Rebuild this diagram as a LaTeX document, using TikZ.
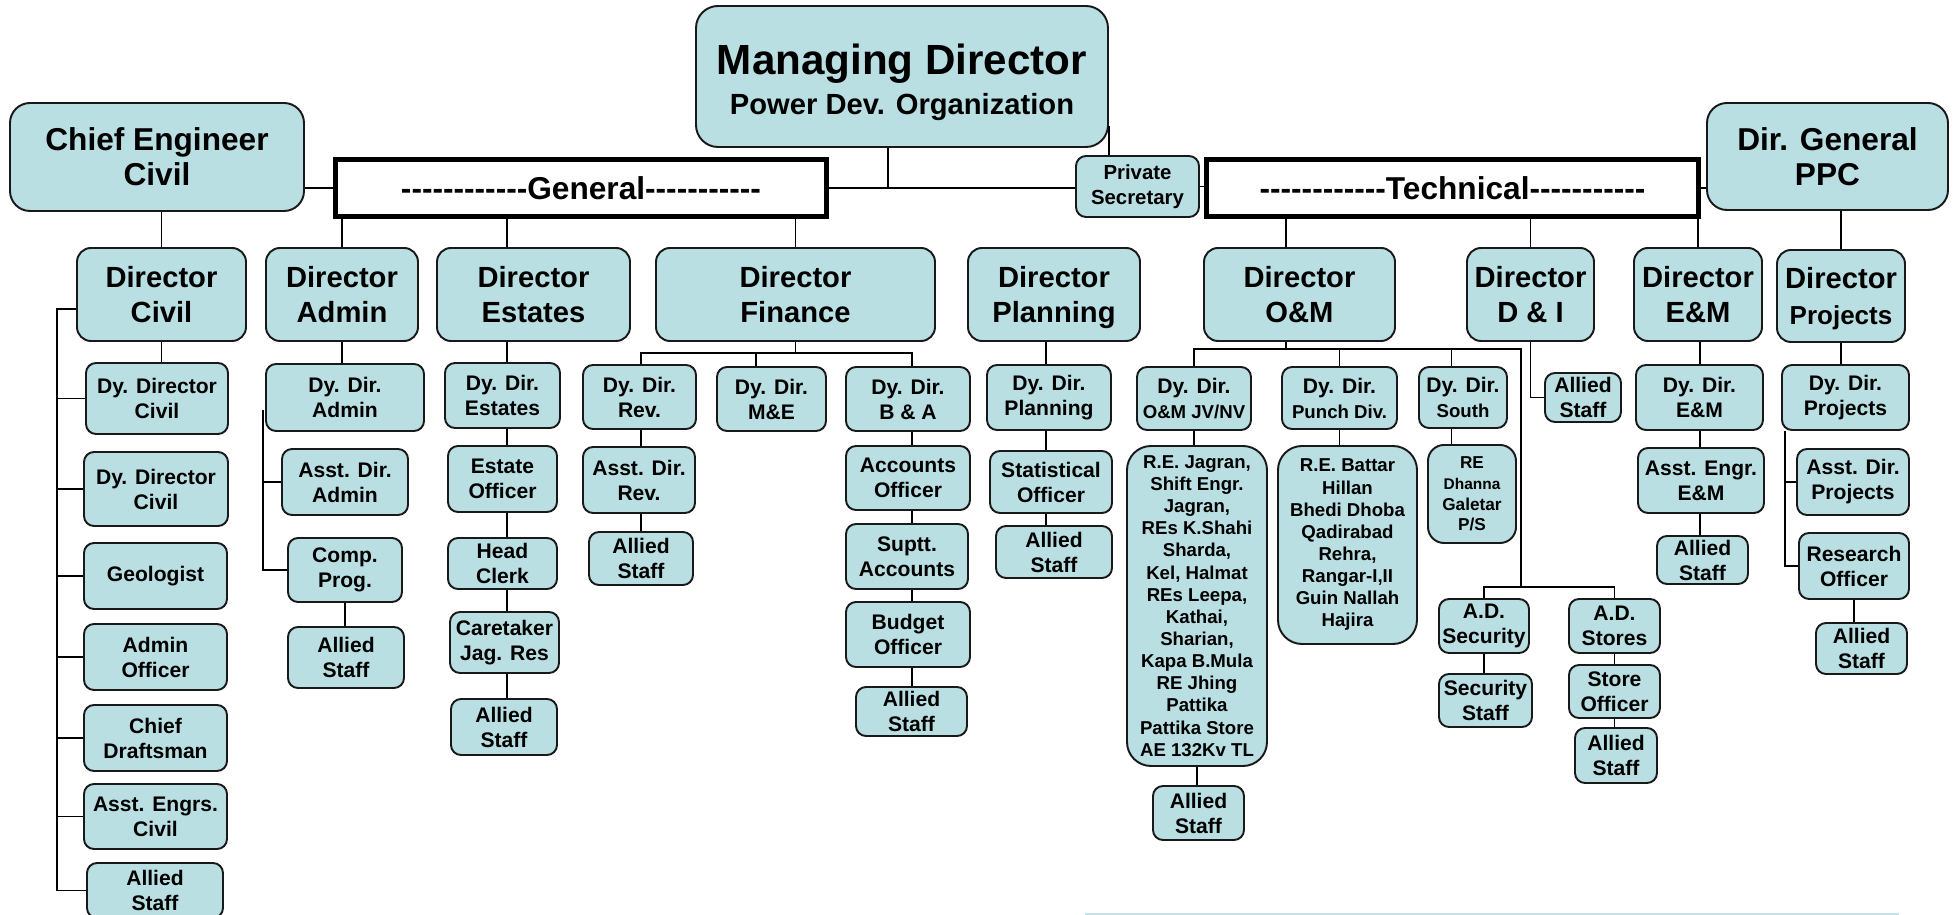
\documentclass[tikz,border=0pt]{standalone}
\usepackage{fontspec}
\setmainfont{Liberation Sans}[Ligatures=TeXOff]
\usepackage{xcolor}

\definecolor{boxfill}{RGB}{185,223,227}
\definecolor{edgeline}{RGB}{25,25,25}
\definecolor{faintline}{RGB}{198,228,231}

\tikzset{
  sz/.style 2 args={minimum width=#1mm, minimum height=#2mm},
  box/.style={draw=edgeline, line width=0.55pt, fill=boxfill, rounded corners=1mm, inner sep=0pt, align=center, font=\fontsize{6}{7.1}\selectfont\bfseries},
  dirbox/.style={box, rounded corners=1.4mm, font=\fontsize{8.3}{10}\selectfont\bfseries},
  headbox/.style={box, rounded corners=2mm, font=\fontsize{9}{10}\selectfont\bfseries},
  listbox/.style={box, rounded corners=2.4mm, font=\fontsize{5.3}{6.3}\selectfont\bfseries},
  bar/.style={draw=black, line width=1.5pt, fill=white, inner sep=0pt, font=\fontsize{9}{10}\selectfont\bfseries},
  link/.style={draw=black, line width=0.5pt}
}

\begin{document}
\begin{tikzpicture}[x=0.1mm, y=-0.1mm]
      \useasboundingbox (0,0) rectangle (1954,915);

      % top row
      \node [headbox, sz={41.2}{14.1}, rounded corners=2.2mm, font=\fontsize{12}{11.4}\selectfont\bfseries] (md) at (902,76.5) {\rule{0pt}{12.2pt}Managing Director\\\fontsize{8.3}{11.4}\selectfont Power Dev. Organization};
      \node [headbox, sz={29.4}{10.8}] (ce) at (157,157) {Chief Engineer\\Civil};
      \node [bar, sz={49.1}{5.7}] (gen) at (581,188) {------------General-----------};
      \node [box, sz={12.3}{6.1}, font=\fontsize{5.8}{7}\selectfont\bfseries] (ps) at (1137.5,186.5) {Private\\Secretary};
      \node [bar, sz={49.2}{5.7}] (tech) at (1452.5,188) {------------Technical-----------};
      \node [headbox, sz={24.1}{10.7}] (dg) at (1827.5,156.5) {Dir. General\\PPC};

      % directors
      \node [dirbox, sz={16.9}{9.3}] (dciv) at (161.5,294.5) {Director\\Civil};
      \node [dirbox, sz={15.2}{9.3}] (dadm) at (342,294.5) {Director\\Admin};
      \node [dirbox, sz={19.3}{9.3}] (dest) at (533.5,294.5) {Director\\Estates};
      \node [dirbox, sz={27.9}{9.3}] (dfin) at (795.5,294.5) {Director\\Finance};
      \node [dirbox, sz={17.2}{9.3}] (dpla) at (1054,294.5) {Director\\\smash{Planning}};
      \node [dirbox, sz={19.1}{9.3}] (dom) at (1299.5,294.5) {Director\\O\&M};
      \node [dirbox, sz={12.7}{9.3}] (ddi) at (1530.5,294.5) {Director\\D \& I};
      \node [dirbox, sz={12.8}{9.3}] (dem) at (1698,294.5) {Director\\E\&M};
      \node [dirbox, sz={12.8}{9.2}] (dpro) at (1841,296) {Director\\\fontsize{7.4}{10}\selectfont\smash{Projects}};

      % civil
      \node [box, sz={14.2}{7.1}] (ddc1) at (157,398.5) {Dy. Director\\Civil};
      \node [box, sz={14.4}{7.4}] (ddc2) at (156,489) {Dy. Director\\Civil};
      \node [box, sz={14.3}{6.6}] (geo) at (155.5,576) {Geologist};
      \node [box, sz={14.3}{6.6}] (adof) at (155.5,657) {Admin\\Officer};
      \node [box, sz={14.3}{6.6}] (cdr) at (155.5,738) {Chief\\Draftsman};
      \node [box, sz={14.3}{6.5}] (aec) at (155.5,816.5) {Asst. Engrs.\\Civil};
      \node [box, sz={13.6}{5.5}] (asciv) at (155,890.5) {Allied\\Staff};

      % admin
      \node [box, sz={15.8}{6.7}] (dda) at (345,397.5) {Dy. Dir.\\Admin};
      \node [box, sz={12.6}{6.6}] (ada) at (345,482) {Asst. Dir.\\Admin};
      \node [box, sz={11.4}{6.4}] (cp) at (345,570) {Comp.\\Prog.};
      \node [box, sz={11.6}{6.1}] (asadm) at (346,657.5) {Allied\\Staff};

      % estates
      \node [box, sz={11.5}{6.5}] (dde) at (502.5,395.5) {Dy. Dir.\\Estates};
      \node [box, sz={10.9}{6.6}] (eo) at (502.5,479) {Estate\\Officer};
      \node [box, sz={10.9}{5.1}] (hc) at (502.5,563.5) {Head\\Clerk};
      \node [box, sz={10.9}{6.1}] (ct) at (504.5,642.5) {Caretaker\\Jag. Res};
      \node [box, sz={10.6}{5.6}] (ases) at (504,727) {Allied\\Staff};

      % finance
      \node [box, sz={11.3}{6.4}] (ddr) at (639.5,397) {Dy. Dir.\\Rev.};
      \node [box, sz={11.2}{6.6}] (adr) at (639,480) {Asst. Dir.\\Rev.};
      \node [box, sz={10.4}{5.3}] (asrev) at (641,558.5) {Allied\\Staff};
      \node [box, sz={10.9}{6.4}] (ddme) at (771.5,399) {Dy. Dir.\\M\&E};
      \node [box, sz={12.4}{6.4}] (ddba) at (908,399) {Dy. Dir.\\B \& A};
      \node [box, sz={12.4}{6.4}] (ao) at (908,478) {Accounts\\Officer};
      \node [box, sz={12.2}{6.5}] (sa) at (907,556.5) {Suptt.\\Accounts};
      \node [box, sz={12.4}{6.5}] (bo) at (908,634.5) {Budget\\Officer};
      \node [box, sz={11.1}{4.9}] (asfin) at (911.5,711.5) {Allied\\Staff};

      % planning
      \node [box, sz={12.4}{6.5}] (ddp) at (1049,397.5) {Dy. Dir.\\Planning};
      \node [box, sz={12.2}{6.2}] (so) at (1051,482) {Statistical\\Officer};
      \node [box, sz={11.6}{5.2}] (aspl) at (1054,552) {Allied\\Staff};

      % o&m
      \node [box, sz={11.4}{6.3}] (ddjv) at (1194,398.5) {Dy. Dir.\\\fontsize{5.3}{6.4}\selectfont O\&M JV/NV};
      \node [listbox, sz={14}{32}] (jvlist) at (1197,606) {R.E. Jagran,\\Shift Engr.\\Jagran,\\REs K.Shahi\\Sharda,\\Kel, Halmat\\REs Leepa,\\Kathai,\\Sharian,\\Kapa B.Mula\\RE Jhing\\Pattika\\Pattika Store\\AE 132Kv TL};
      \node [box, sz={9.1}{5.4}] (asjv) at (1198.5,813) {Allied\\Staff};
      \node [box, sz={11.5}{6.2}] (ddpd) at (1339.5,398) {Dy. Dir.\\\fontsize{5.3}{6.4}\selectfont Punch Div.};
      \node [listbox, sz={13.9}{19.8}] (pdlist) at (1347.5,545) {R.E. Battar\\Hillan\\Bhedi Dhoba\\Qadirabad\\Rehra,\\Rangar-I,II\\Guin Nallah\\Hajira};
      \node [box, sz={8.8}{6.1}] (dds) at (1463,397.5) {Dy. Dir.\\\fontsize{5.3}{6.4}\selectfont South};
      \node [box, sz={8.8}{9.8}, rounded corners=1.6mm, font=\fontsize{4.9}{5.9}\selectfont\bfseries] (re) at (1472,494) {RE\\\fontsize{4.4}{5.3}\selectfont Dhanna\\Galetar\\P/S};
      \node [box, sz={9}{5.4}] (ads) at (1484,626) {A.D.\\Security};
      \node [box, sz={9.3}{5.3}] (ss) at (1485.5,700.5) {Security\\Staff};
      \node [box, sz={9.1}{5.4}] (adst) at (1614.5,626) {A.D.\\Stores};
      \node [box, sz={9.1}{5.3}] (sto) at (1614.5,691.5) {Store\\Officer};
      \node [box, sz={8.2}{5.5}] (asst) at (1616,755.5) {Allied\\Staff};

      % d&i, e&m, projects
      \node [box, sz={7.6}{4.9}] (asdi) at (1583,397.5) {Allied\\Staff};
      \node [box, sz={12.7}{6.5}] (ddem) at (1699.5,397.5) {Dy. Dir.\\E\&M};
      \node [box, sz={12.6}{6.5}] (aee) at (1701,480.5) {Asst. Engr.\\E\&M};
      \node [box, sz={9.1}{4.8}] (asem) at (1702.5,560) {Allied\\Staff};
      \node [box, sz={12.7}{6.5}] (ddpr) at (1845.5,397.5) {Dy. Dir.\\Projects};
      \node [box, sz={11.2}{6.6}] (adp) at (1853,482) {Asst. Dir.\\Projects};
      \node [box, sz={11}{6.6}] (ro) at (1854,566) {Research\\Officer};
      \node [box, sz={9.1}{5.1}] (aspr) at (1861.5,648.5) {Allied\\Staff};

      % helper points
      \coordinate (mdfoot) at ([xshift=-1.4mm]md.south);
      \coordinate (mdside) at ([yshift=2.2mm]md.south east);
      \coordinate (estfoot) at ([xshift=-2.65mm]dest.north);
      \coordinate (omfoot) at ([xshift=-1.35mm]dom.north);
      \coordinate (omdrop) at ([xshift=-1.35mm]dom.south);
      \coordinate (mefoot) at ([xshift=-1.55mm]ddme.north);
      \coordinate (southx) at ([xshift=-1.15mm]dds.north);
      \coordinate (civtap) at ([yshift=-1.45mm]dciv.west);
      \coordinate (admtap) at ([yshift=-1.25mm]dda.west);
      \coordinate (civbus) at (57,0);
      \coordinate (admbus) at (263,0);
      \coordinate (estbus) at (507,0);
      \coordinate (revbus) at (641,0);
      \coordinate (babus) at (912,0);
      \coordinate (plabus) at (1046,0);
      \coordinate (embus) at (1700,0);
      \coordinate (probus) at (1785,0);
      \coordinate (omspine) at (1521,0);
      \coordinate (finrow) at (0,353);
      \coordinate (omrow) at (0,349);
      \coordinate (secrow) at (0,587);

      % top links
      \draw [link] (mdfoot) -- (mdfoot |- gen.east);
      \draw [link] (gen.east) -- (gen.east -| ps.west);
      \draw [link] (mdside) -- (mdside |- ps.north);
      \draw [link] (ce.east |- gen.west) -- (gen.west);
      \draw [link] (ps.east) -- (ps.east -| tech.west);
      \draw [link] (tech.east) -- (tech.east -| dg.west);
      \draw [link] (ce.south -| dciv.north) -- (dciv.north);
      \draw [link] (gen.south -| dadm.north) -- (dadm.north);
      \draw [link] (estfoot |- gen.south) -- (estfoot);
      \draw [link] (gen.south -| dfin.north) -- (dfin.north);
      \draw [link] (omfoot |- tech.south) -- (omfoot);
      \draw [link] (tech.south -| ddi.north) -- (ddi.north);
      \draw [link] (tech.south -| dem.north) -- (dem.north);
      \draw [link] (dg.south -| dpro.north) -- (dpro.north);

      % civil
      \draw [link] (dciv.south) -- (dciv.south |- ddc1.north);
      \draw [link] (civtap) -- (civtap -| civbus) |- (asciv.west);
      \foreach \n in {ddc1,ddc2,geo,adof,cdr,aec}
        \draw [link] (\n.west) -- (\n.west -| civbus);

      % admin
      \draw [link] (dadm.south) -- (dadm.south |- dda.north);
      \draw [link] (admtap -| admbus) |- (cp.west);
      \draw [link] (ada.west) -- (ada.west -| admbus);
      \draw [link] (cp.south) -- (cp.south |- asadm.north);

      % estates
      \draw [link] (dest.south -| estbus) -- (dde.north -| estbus);
      \foreach \a/\b in {dde/eo,eo/hc,hc/ct,ct/ases}
        \draw [link] (\a.south -| estbus) -- (\b.north -| estbus);

      % finance
      \draw [link] (dfin.south) -- (dfin.south |- finrow);
      \draw [link] (ddr.north -| revbus) -- (revbus |- finrow) -- (babus |- finrow) -- (ddba.north -| babus);
      \draw [link] (mefoot |- finrow) -- (mefoot);
      \foreach \a/\b in {ddr/adr,adr/asrev}
        \draw [link] (\a.south -| revbus) -- (\b.north -| revbus);
      \foreach \a/\b in {ddba/ao,ao/sa,sa/bo,bo/asfin}
        \draw [link] (\a.south -| babus) -- (\b.north -| babus);

      % planning
      \foreach \a/\b in {dpla/ddp,ddp/so,so/aspl}
        \draw [link] (\a.south -| plabus) -- (\b.north -| plabus);

      % o&m
      \draw [link] (omdrop) -- (omdrop |- omrow);
      \draw [link] (ddjv.north) |- (omspine |- omrow) -- (omspine |- secrow);
      \draw [link] (ddpd.north) -- (ddpd.north |- omrow);
      \draw [link] (southx) -- (southx |- omrow);
      \draw [link] (ads.north) |- (adst.north |- secrow) -- (adst.north);
      \draw [link] (ddjv.south) -- (ddjv.south |- jvlist.north);
      \draw [link] (jvlist.south) -- (jvlist.south |- asjv.north);
      \draw [link] (ddpd.south) -- (ddpd.south |- pdlist.north);
      \draw [link] (southx |- dds.south) -- (southx |- re.north);
      \draw [link] (ads.south) -- (ads.south |- ss.north);
      \draw [link] (adst.south) -- (adst.south |- sto.north);
      \draw [link] (sto.south) -- (sto.south |- asst.north);

      % d&i, e&m, projects
      \draw [link] (ddi.south) |- (asdi.west);
      \foreach \a/\b in {dem/ddem,ddem/aee,aee/asem}
        \draw [link] (\a.south -| embus) -- (\b.north -| embus);
      \draw [link] (dpro.south) -- (dpro.south |- ddpr.north);
      \draw [link] (ddpr.south -| probus) |- (ro.west);
      \draw [link] (adp.west) -- (adp.west -| probus);
      \draw [link] (ro.south) -- (ro.south |- aspr.north);

      \draw [faintline, line width=0.15mm] (1085,913.8) -- (1899,913.8);
    \end{tikzpicture}
\end{document}
